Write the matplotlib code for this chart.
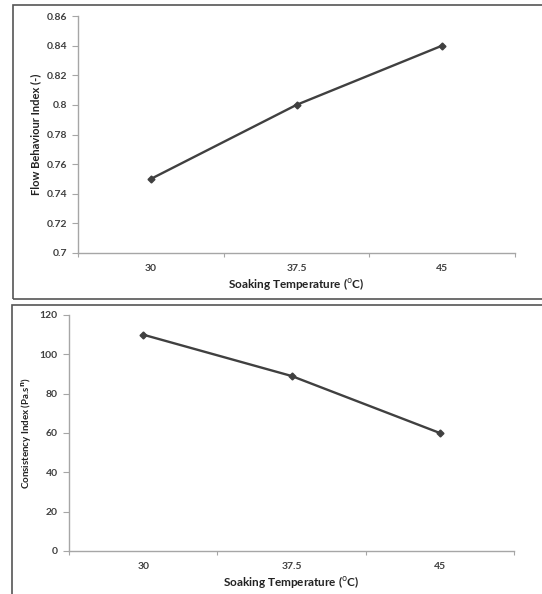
import numpy as np
import matplotlib.pyplot as plt
from matplotlib.patches import Rectangle

# data
temps = ['30', '37.5', '45']
flow_index = [0.75, 0.80, 0.84]
consistency = [110, 89, 60]

flow_ticks = [0.7, 0.72, 0.74, 0.76, 0.78, 0.8, 0.82, 0.84, 0.86]
flow_ticklabels = ['0.7', '0.72', '0.74', '0.76', '0.78', '0.8', '0.82', '0.84', '0.86']
cons_ticks = [0, 20, 40, 60, 80, 100, 120]

line_col = '#404040'
axis_col = '#a6a6a6'
text_col = '#404040'
plt.rcParams['font.family'] = ['Lato', 'DejaVu Sans']

W, H = 542, 594
fig = plt.figure(figsize=(W / 100, H / 100), dpi=100)

# outer frames around each panel
fig.patches.append(Rectangle((13 / W, 1 - 299 / H), 0.99, 294 / H, transform=fig.transFigure,
                             fill=False, edgecolor='#555555', linewidth=1.2))
fig.patches.append(Rectangle((12 / W, -0.05), 0.99, (594 - 305) / H + 0.05, transform=fig.transFigure,
                             fill=False, edgecolor='#555555', linewidth=1.2))


def style_axes(ax, values, yticks, yticklabels, ylim, ylabel, ylabel_fs):
    x = np.arange(len(temps))
    ax.plot(x, values, color=line_col, linewidth=1.7, marker='D', markersize=3.5,
            markerfacecolor=line_col, markeredgecolor=line_col)
    ax.set_xlim(-0.5, len(temps) - 0.5)
    ax.set_ylim(*ylim)
    ax.set_xticks(np.arange(-0.5, len(temps), 1.0))
    ax.set_xticklabels([])
    ax.set_xticks(x, minor=True)
    ax.set_xticklabels(temps, minor=True)
    ax.tick_params(axis='x', which='major', length=3, color=axis_col, direction='out')
    ax.tick_params(axis='x', which='minor', length=0, pad=8, labelsize=7.5, labelcolor=text_col)
    ax.set_yticks(yticks)
    ax.set_yticklabels(yticklabels)
    ax.tick_params(axis='y', length=4, color=axis_col, direction='out', labelsize=7.5,
                   labelcolor=text_col, pad=4)
    for lab in ax.get_xticklabels(minor=True) + ax.get_yticklabels():
        lab.set_fontweight('bold')
    for s in ['top', 'right']:
        ax.spines[s].set_visible(False)
    for s in ['left', 'bottom']:
        ax.spines[s].set_color(axis_col)
        ax.spines[s].set_linewidth(1.0)
    ax.set_xlabel('Soaking Temperature ($^{\\mathrm{o}}$C)', fontsize=8.5, fontweight='bold',
                  color='#222222', labelpad=2)
    ax.set_ylabel(ylabel, fontsize=ylabel_fs, fontweight='bold', color='#222222', labelpad=4)


ax1 = fig.add_axes([78 / W, 1 - 253 / H, (515 - 78) / W, (253 - 16) / H])
style_axes(ax1, flow_index, flow_ticks, flow_ticklabels, (0.7, 0.86),
           'Flow Behaviour Index (-)', 8)

ax2 = fig.add_axes([69 / W, 1 - 551 / H, (514 - 69) / W, (551 - 315) / H])
style_axes(ax2, consistency, cons_ticks, [str(t) for t in cons_ticks], (0, 120),
           'Consistency Index (Pa.s$^{\\mathbf{n}}$)', 7)

fig.savefig('out.png', dpi=100)
